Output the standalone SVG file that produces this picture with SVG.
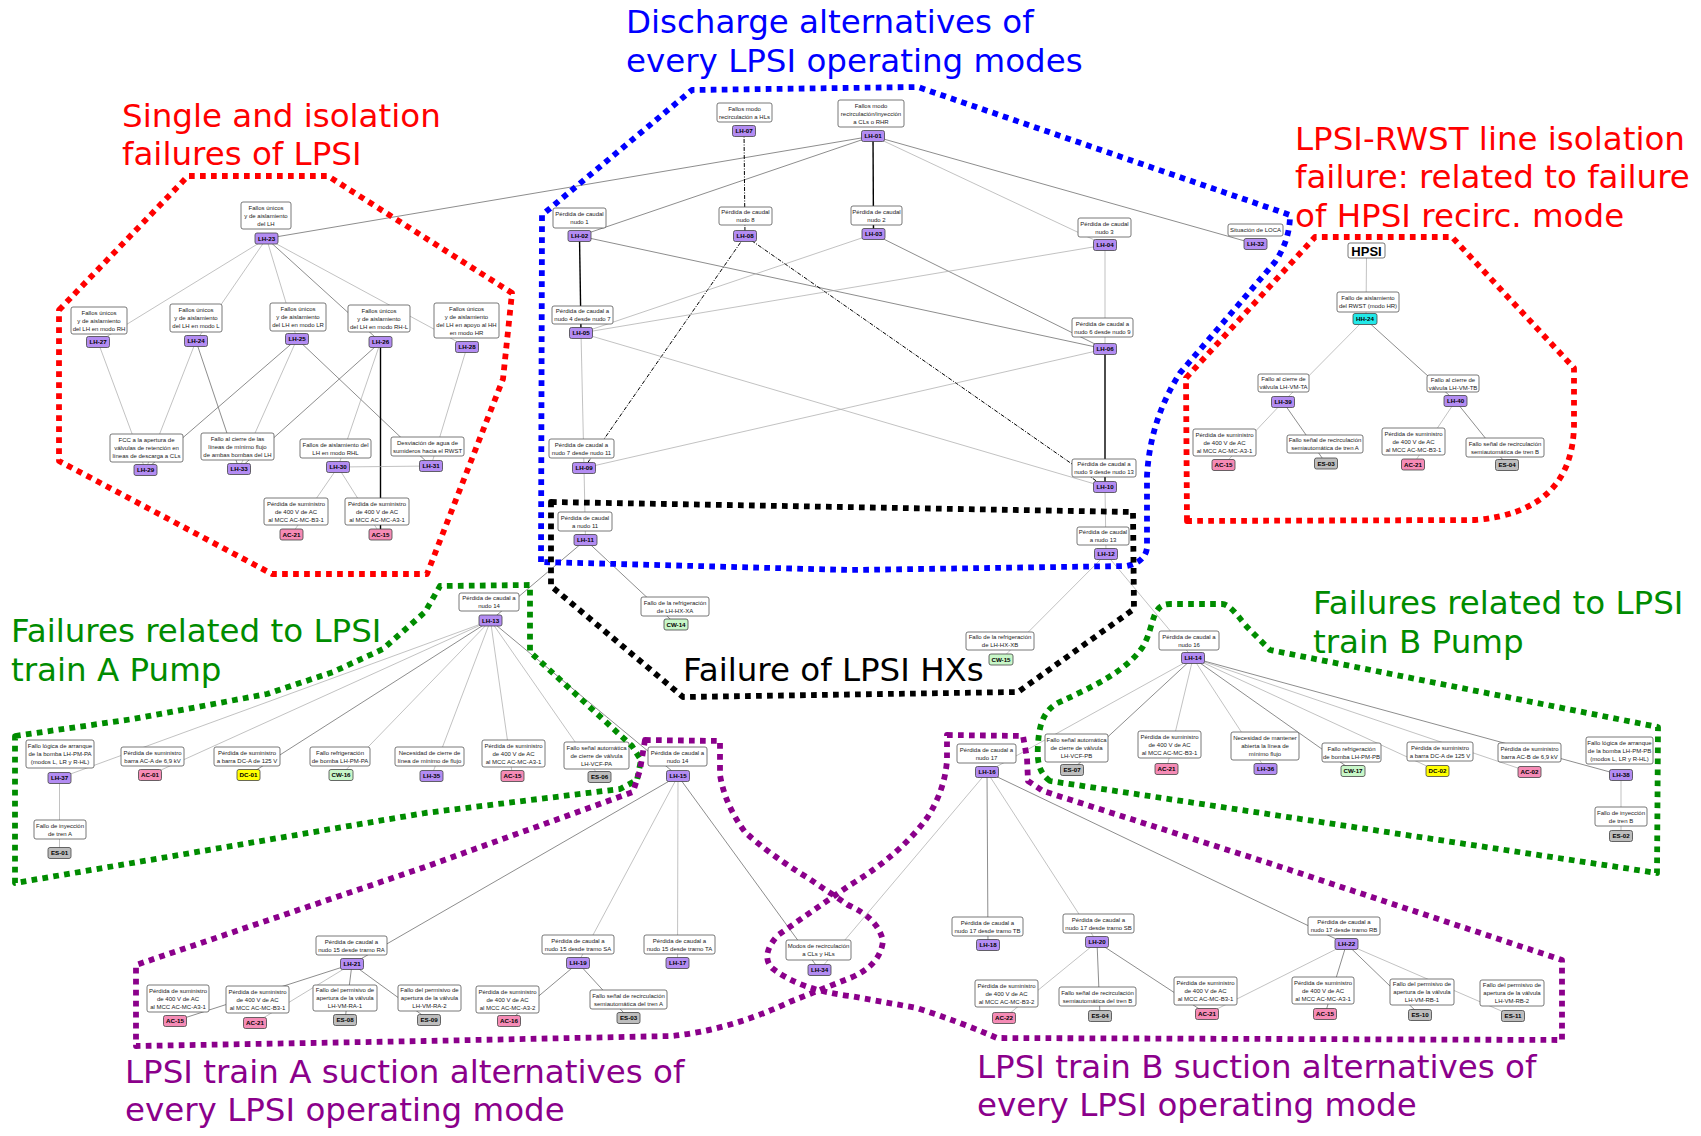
<svg xmlns="http://www.w3.org/2000/svg" width="1701" height="1136" viewBox="0 0 1701 1136">
<style>
.bx{fill:#fff;stroke:#555;stroke-width:.8}
.tx{font-family:"Liberation Sans",Arial,sans-serif;font-size:6px;fill:#222;text-anchor:middle}
.tg{stroke:#444;stroke-width:.8}
.tt{font-family:"Liberation Sans",Arial,sans-serif;font-size:6.2px;font-weight:bold;fill:#000;text-anchor:middle}
.lh{fill:#b38cf2}.ac{fill:#f58bb5}.dc{fill:#ffff00}.cw{fill:#c8f7c8}.es{fill:#bdbdbd}.hh{fill:#22e8e8}
.e{stroke:#a8a8a8;stroke-width:.7;fill:none}
.ed{stroke:#707070;stroke-width:.8;fill:none}
.eb{stroke:#000;stroke-width:1.4;fill:none}
.edd{stroke:#000;stroke-width:1;fill:none;stroke-dasharray:4 1.5 1 1.5}
.dot{fill:none;stroke-width:5.8;stroke-dasharray:5.7 5.3;stroke-linejoin:round}
.ti{font-family:"DejaVu Sans",Verdana,sans-serif;font-size:32.5px}
</style>
<rect width="1701" height="1136" fill="#fff"/>
<g id="connectors">
<line class="ed" x1="873" y1="136" x2="266.5" y2="238.5"/>
<line class="ed" x1="873" y1="136" x2="579.5" y2="236"/>
<line class="eb" x1="873" y1="136" x2="873.5" y2="234"/>
<line class="e" x1="873" y1="136" x2="1105" y2="245"/>
<line class="ed" x1="873" y1="136" x2="1255.5" y2="244"/>
<line class="edd" x1="744" y1="131" x2="745" y2="236"/>
<line class="eb" x1="579.5" y1="236" x2="581" y2="333"/>
<line class="ed" x1="579.5" y1="236" x2="1105" y2="349"/>
<line class="edd" x1="745" y1="236" x2="584" y2="468"/>
<line class="edd" x1="745" y1="236" x2="1105" y2="487"/>
<line class="e" x1="873.5" y1="234" x2="581" y2="333"/>
<line class="ed" x1="873.5" y1="234" x2="1105" y2="349"/>
<line class="e" x1="1105" y1="245" x2="1105" y2="349"/>
<line class="e" x1="581" y1="333" x2="1105" y2="245"/>
<line class="e" x1="581" y1="333" x2="584" y2="468"/>
<line class="e" x1="581" y1="333" x2="1105" y2="487"/>
<line class="e" x1="584" y1="468" x2="1105" y2="349"/>
<line class="e" x1="584" y1="468" x2="585.5" y2="540"/>
<line class="eb" x1="1105" y1="349" x2="1105" y2="487"/>
<line class="e" x1="1105" y1="487" x2="1106" y2="554"/>
<line class="ed" x1="585.5" y1="540" x2="490.5" y2="620.5"/>
<line class="ed" x1="585.5" y1="540" x2="676" y2="624.5"/>
<line class="e" x1="1106" y1="554" x2="1001" y2="659.5"/>
<line class="e" x1="1106" y1="554" x2="1193" y2="658"/>
<line class="e" x1="266.5" y1="238.5" x2="98" y2="342"/>
<line class="e" x1="266.5" y1="238.5" x2="196" y2="341"/>
<line class="e" x1="266.5" y1="238.5" x2="297" y2="339"/>
<line class="ed" x1="266.5" y1="238.5" x2="380.5" y2="342"/>
<line class="e" x1="266.5" y1="238.5" x2="467" y2="347"/>
<line class="e" x1="98" y1="342" x2="145.5" y2="470"/>
<line class="e" x1="196" y1="341" x2="145.5" y2="470"/>
<line class="ed" x1="196" y1="341" x2="239" y2="469"/>
<line class="ed" x1="297" y1="339" x2="145.5" y2="470"/>
<line class="e" x1="297" y1="339" x2="239" y2="469"/>
<line class="ed" x1="297" y1="339" x2="431" y2="466"/>
<line class="ed" x1="380.5" y1="342" x2="239" y2="469"/>
<line class="e" x1="380.5" y1="342" x2="338" y2="467"/>
<line class="eb" x1="380.5" y1="342" x2="380.5" y2="534.5"/>
<line class="e" x1="467" y1="347" x2="431" y2="466"/>
<line class="e" x1="338" y1="467" x2="431" y2="466"/>
<line class="e" x1="338" y1="467" x2="291.5" y2="534.5"/>
<line class="e" x1="338" y1="467" x2="380.5" y2="534.5"/>
<line class="e" x1="1366.5" y1="258" x2="1366" y2="314"/>
<line class="e" x1="1365" y1="319" x2="1283" y2="402"/>
<line class="ed" x1="1365" y1="319" x2="1455.5" y2="401"/>
<line class="e" x1="1283" y1="402" x2="1223.5" y2="465"/>
<line class="ed" x1="1283" y1="402" x2="1326" y2="463.5"/>
<line class="e" x1="1455.5" y1="401" x2="1413" y2="464.5"/>
<line class="ed" x1="1455.5" y1="401" x2="1507" y2="465"/>
<line class="e" x1="490.5" y1="620.5" x2="59.5" y2="778"/>
<line class="e" x1="490.5" y1="620.5" x2="150" y2="775"/>
<line class="ed" x1="490.5" y1="620.5" x2="248.5" y2="775"/>
<line class="e" x1="490.5" y1="620.5" x2="341" y2="775"/>
<line class="e" x1="490.5" y1="620.5" x2="431.5" y2="776"/>
<line class="e" x1="490.5" y1="620.5" x2="512.5" y2="776"/>
<line class="e" x1="490.5" y1="620.5" x2="599.5" y2="777"/>
<line class="ed" x1="490.5" y1="620.5" x2="678" y2="776"/>
<line class="e" x1="59.5" y1="778" x2="59.5" y2="853"/>
<line class="e" x1="1193" y1="658" x2="987" y2="772"/>
<line class="ed" x1="1193" y1="658" x2="1072" y2="770"/>
<line class="e" x1="1193" y1="658" x2="1166.5" y2="769"/>
<line class="e" x1="1193" y1="658" x2="1265.5" y2="769"/>
<line class="ed" x1="1193" y1="658" x2="1353" y2="771"/>
<line class="e" x1="1193" y1="658" x2="1437.5" y2="771"/>
<line class="e" x1="1193" y1="658" x2="1529.5" y2="772"/>
<line class="ed" x1="1193" y1="658" x2="1621" y2="775"/>
<line class="e" x1="1621" y1="775" x2="1621" y2="836"/>
<line class="ed" x1="678" y1="776" x2="352" y2="964"/>
<line class="e" x1="678" y1="776" x2="578" y2="963"/>
<line class="e" x1="678" y1="776" x2="677.5" y2="963"/>
<line class="ed" x1="678" y1="776" x2="819.5" y2="970"/>
<line class="e" x1="987" y1="772" x2="819.5" y2="970"/>
<line class="ed" x1="987" y1="772" x2="988" y2="945"/>
<line class="e" x1="987" y1="772" x2="1097" y2="942"/>
<line class="ed" x1="987" y1="772" x2="1346.5" y2="944"/>
<line class="ed" x1="352" y1="964" x2="175" y2="1021"/>
<line class="e" x1="352" y1="964" x2="255" y2="1023"/>
<line class="ed" x1="352" y1="964" x2="345" y2="1020"/>
<line class="ed" x1="352" y1="964" x2="429" y2="1020"/>
<line class="ed" x1="578" y1="963" x2="509" y2="1021"/>
<line class="ed" x1="578" y1="963" x2="628.5" y2="1018"/>
<line class="e" x1="1097" y1="942" x2="1004" y2="1018"/>
<line class="ed" x1="1097" y1="942" x2="1100" y2="1016"/>
<line class="ed" x1="1097" y1="942" x2="1207" y2="1014"/>
<line class="e" x1="1346.5" y1="944" x2="1207" y2="1014"/>
<line class="ed" x1="1346.5" y1="944" x2="1325" y2="1014"/>
<line class="ed" x1="1346.5" y1="944" x2="1420" y2="1015"/>
<line class="e" x1="1346.5" y1="944" x2="1513" y2="1016"/>
</g>
<g id="nodes">
<g id="LH-23"><rect class="bx" x="241" y="202" width="50" height="27" rx="2"/><text class="tx" y="209.7"><tspan x="266">Fallos únicos</tspan><tspan x="266" dy="8">y de aislamiento</tspan><tspan x="266" dy="8">del LH</tspan></text><rect class="tg lh" x="255" y="233" width="23" height="11" rx="2"/><text class="tt" x="266.5" y="240.7">LH-23</text></g>
<g id="LH-27"><rect class="bx" x="71" y="307" width="56" height="27" rx="2"/><text class="tx" y="314.7"><tspan x="99">Fallos únicos</tspan><tspan x="99" dy="8">y de aislamiento</tspan><tspan x="99" dy="8">del LH en modo RH</tspan></text><rect class="tg lh" x="86.5" y="336.5" width="23" height="11" rx="2"/><text class="tt" x="98" y="344.2">LH-27</text></g>
<g id="LH-24"><rect class="bx" x="170" y="304" width="52" height="28" rx="2"/><text class="tx" y="312.2"><tspan x="196">Fallos únicos</tspan><tspan x="196" dy="8">y de aislamiento</tspan><tspan x="196" dy="8">del LH en modo L</tspan></text><rect class="tg lh" x="184.5" y="335.5" width="23" height="11" rx="2"/><text class="tt" x="196" y="343.2">LH-24</text></g>
<g id="LH-25"><rect class="bx" x="270" y="303" width="56" height="28" rx="2"/><text class="tx" y="311.2"><tspan x="298">Fallos únicos</tspan><tspan x="298" dy="8">y de aislamiento</tspan><tspan x="298" dy="8">del LH en modo LR</tspan></text><rect class="tg lh" x="285.5" y="333.5" width="23" height="11" rx="2"/><text class="tt" x="297" y="341.2">LH-25</text></g>
<g id="LH-26"><rect class="bx" x="348" y="305" width="62" height="27" rx="2"/><text class="tx" y="312.7"><tspan x="379">Fallos únicos</tspan><tspan x="379" dy="8">y de aislamiento</tspan><tspan x="379" dy="8">del LH en modo RH-L</tspan></text><rect class="tg lh" x="369" y="336.5" width="23" height="11" rx="2"/><text class="tt" x="380.5" y="344.2">LH-26</text></g>
<g id="LH-28"><rect class="bx" x="434" y="303" width="65" height="35" rx="2"/><text class="tx" y="310.7"><tspan x="466.5">Fallos únicos</tspan><tspan x="466.5" dy="8">y de aislamiento</tspan><tspan x="466.5" dy="8">del LH en apoyo al HH</tspan><tspan x="466.5" dy="8">en modo HR</tspan></text><rect class="tg lh" x="455.5" y="341.5" width="23" height="11" rx="2"/><text class="tt" x="467" y="349.2">LH-28</text></g>
<g id="LH-29"><rect class="bx" x="110" y="434" width="73" height="28" rx="2"/><text class="tx" y="442.2"><tspan x="146.5">FCC a la apertura de</tspan><tspan x="146.5" dy="8">válvulas de retención en</tspan><tspan x="146.5" dy="8">líneas de descarga a CLs</tspan></text><rect class="tg lh" x="134" y="464.5" width="23" height="11" rx="2"/><text class="tt" x="145.5" y="472.2">LH-29</text></g>
<g id="LH-33"><rect class="bx" x="201" y="433" width="73" height="27" rx="2"/><text class="tx" y="440.7"><tspan x="237.5">Fallo al cierre de las</tspan><tspan x="237.5" dy="8">líneas de mínimo flujo</tspan><tspan x="237.5" dy="8">de ambas bombas del LH</tspan></text><rect class="tg lh" x="227.5" y="463.5" width="23" height="11" rx="2"/><text class="tt" x="239" y="471.2">LH-33</text></g>
<g id="LH-30"><rect class="bx" x="300" y="439" width="71" height="19" rx="2"/><text class="tx" y="446.7"><tspan x="335.5">Fallos de aislamiento del</tspan><tspan x="335.5" dy="8">LH en modo RHL</tspan></text><rect class="tg lh" x="326.5" y="461.5" width="23" height="11" rx="2"/><text class="tt" x="338" y="469.2">LH-30</text></g>
<g id="LH-31"><rect class="bx" x="391" y="437" width="73" height="19" rx="2"/><text class="tx" y="444.7"><tspan x="427.5">Desviación de agua de</tspan><tspan x="427.5" dy="8">sumideros hacia el RWST</tspan></text><rect class="tg lh" x="419.5" y="460.5" width="23" height="11" rx="2"/><text class="tt" x="431" y="468.2">LH-31</text></g>
<g id="AC-21-a"><rect class="bx" x="264" y="498" width="64" height="27" rx="2"/><text class="tx" y="505.7"><tspan x="296">Pérdida de suministro</tspan><tspan x="296" dy="8">de 400 V de AC</tspan><tspan x="296" dy="8">al MCC AC-MC-B3-1</tspan></text><rect class="tg ac" x="280" y="529" width="23" height="11" rx="2"/><text class="tt" x="291.5" y="536.7">AC-21</text></g>
<g id="AC-15-a"><rect class="bx" x="345" y="498" width="64" height="27" rx="2"/><text class="tx" y="505.7"><tspan x="377">Pérdida de suministro</tspan><tspan x="377" dy="8">de 400 V de AC</tspan><tspan x="377" dy="8">al MCC AC-MC-A3-1</tspan></text><rect class="tg ac" x="369" y="529" width="23" height="11" rx="2"/><text class="tt" x="380.5" y="536.7">AC-15</text></g>
<g id="LH-07"><rect class="bx" x="717" y="103" width="55" height="19" rx="2"/><text class="tx" y="110.7"><tspan x="744.5">Fallos modo</tspan><tspan x="744.5" dy="8">recirculación a HLs</tspan></text><rect class="tg lh" x="732.5" y="125.5" width="23" height="11" rx="2"/><text class="tt" x="744" y="133.2">LH-07</text></g>
<g id="LH-01"><rect class="bx" x="838" y="100" width="66" height="27" rx="2"/><text class="tx" y="107.7"><tspan x="871">Fallos modo</tspan><tspan x="871" dy="8">recirculación/inyección</tspan><tspan x="871" dy="8">a CLs o RHR</tspan></text><rect class="tg lh" x="861.5" y="130.5" width="23" height="11" rx="2"/><text class="tt" x="873" y="138.2">LH-01</text></g>
<g id="LH-02"><rect class="bx" x="553" y="208" width="53" height="20" rx="2"/><text class="tx" y="216.2"><tspan x="579.5">Pérdida de caudal</tspan><tspan x="579.5" dy="8">nudo 1</tspan></text><rect class="tg lh" x="568" y="230.5" width="23" height="11" rx="2"/><text class="tt" x="579.5" y="238.2">LH-02</text></g>
<g id="LH-08"><rect class="bx" x="719" y="207" width="53" height="18" rx="2"/><text class="tx" y="214.2"><tspan x="745.5">Pérdida de caudal</tspan><tspan x="745.5" dy="8">nudo 8</tspan></text><rect class="tg lh" x="733.5" y="230.5" width="23" height="11" rx="2"/><text class="tt" x="745" y="238.2">LH-08</text></g>
<g id="LH-03"><rect class="bx" x="851" y="206" width="51" height="19" rx="2"/><text class="tx" y="213.7"><tspan x="876.5">Pérdida de caudal</tspan><tspan x="876.5" dy="8">nudo 2</tspan></text><rect class="tg lh" x="862" y="228.5" width="23" height="11" rx="2"/><text class="tt" x="873.5" y="236.2">LH-03</text></g>
<g id="LH-04"><rect class="bx" x="1078" y="218" width="53" height="19" rx="2"/><text class="tx" y="225.7"><tspan x="1104.5">Pérdida de caudal</tspan><tspan x="1104.5" dy="8">nudo 3</tspan></text><rect class="tg lh" x="1093.5" y="239.5" width="23" height="11" rx="2"/><text class="tt" x="1105" y="247.2">LH-04</text></g>
<g id="LH-32"><rect class="bx" x="1228" y="224" width="55" height="12" rx="2"/><text class="tx" x="1255.5" y="232.2">Situación de LOCA</text><rect class="tg lh" x="1244" y="238.5" width="23" height="11" rx="2"/><text class="tt" x="1255.5" y="246.2">LH-32</text></g>
<g id="LH-05"><rect class="bx" x="552" y="306" width="61" height="18" rx="2"/><text class="tx" y="313.2"><tspan x="582.5">Pérdida de caudal a</tspan><tspan x="582.5" dy="8">nudo 4 desde nudo 7</tspan></text><rect class="tg lh" x="569.5" y="327.5" width="23" height="11" rx="2"/><text class="tt" x="581" y="335.2">LH-05</text></g>
<g id="LH-06"><rect class="bx" x="1072" y="318" width="61" height="19" rx="2"/><text class="tx" y="325.7"><tspan x="1102.5">Pérdida de caudal a</tspan><tspan x="1102.5" dy="8">nudo 6 desde nudo 9</tspan></text><rect class="tg lh" x="1093.5" y="343.5" width="23" height="11" rx="2"/><text class="tt" x="1105" y="351.2">LH-06</text></g>
<g id="LH-09"><rect class="bx" x="549" y="439" width="65" height="19" rx="2"/><text class="tx" y="446.7"><tspan x="581.5">Pérdida de caudal a</tspan><tspan x="581.5" dy="8">nudo 7 desde nudo 11</tspan></text><rect class="tg lh" x="572.5" y="462.5" width="23" height="11" rx="2"/><text class="tt" x="584" y="470.2">LH-09</text></g>
<g id="LH-10"><rect class="bx" x="1072" y="459" width="64" height="18" rx="2"/><text class="tx" y="466.2"><tspan x="1104">Pérdida de caudal a</tspan><tspan x="1104" dy="8">nudo 9 desde nudo 13</tspan></text><rect class="tg lh" x="1093.5" y="481.5" width="23" height="11" rx="2"/><text class="tt" x="1105" y="489.2">LH-10</text></g>
<g id="LH-11"><rect class="bx" x="558" y="512" width="54" height="19" rx="2"/><text class="tx" y="519.7"><tspan x="585">Pérdida de caudal</tspan><tspan x="585" dy="8">a nudo 11</tspan></text><rect class="tg lh" x="574" y="534.5" width="23" height="11" rx="2"/><text class="tt" x="585.5" y="542.2">LH-11</text></g>
<g id="LH-12"><rect class="bx" x="1077" y="527" width="52" height="18" rx="2"/><text class="tx" y="534.2"><tspan x="1103">Pérdida de caudal</tspan><tspan x="1103" dy="8">a nudo 13</tspan></text><rect class="tg lh" x="1094.5" y="548.5" width="23" height="11" rx="2"/><text class="tt" x="1106" y="556.2">LH-12</text></g>
<g id="LH-13"><rect class="bx" x="459" y="593" width="60" height="18" rx="2"/><text class="tx" y="600.2"><tspan x="489">Pérdida de caudal a</tspan><tspan x="489" dy="8">nudo 14</tspan></text><rect class="tg lh" x="479" y="615" width="23" height="11" rx="2"/><text class="tt" x="490.5" y="622.7">LH-13</text></g>
<g id="CW-14"><rect class="bx" x="641" y="597" width="68" height="19" rx="2"/><text class="tx" y="604.7"><tspan x="675">Fallo de la refrigeración</tspan><tspan x="675" dy="8">de LH-HX-XA</tspan></text><rect class="tg cw" x="664" y="619" width="24" height="11" rx="2"/><text class="tt" x="676" y="626.7">CW-14</text></g>
<g id="CW-15"><rect class="bx" x="966" y="632" width="68" height="18" rx="2"/><text class="tx" y="639.2"><tspan x="1000">Fallo de la refrigeración</tspan><tspan x="1000" dy="8">de LH-HX-XB</tspan></text><rect class="tg cw" x="989" y="654" width="24" height="11" rx="2"/><text class="tt" x="1001" y="661.7">CW-15</text></g>
<g id="LH-14"><rect class="bx" x="1159" y="631" width="60" height="19" rx="2"/><text class="tx" y="638.7"><tspan x="1189">Pérdida de caudal a</tspan><tspan x="1189" dy="8">nudo 16</tspan></text><rect class="tg lh" x="1181.5" y="652.5" width="23" height="11" rx="2"/><text class="tt" x="1193" y="660.2">LH-14</text></g>
<g id="HPSI"><rect class="bx" x="1348" y="243" width="37" height="15" rx="2"/><text x="1366.5" y="255.5" style="font-family:'Liberation Sans',Arial,sans-serif;font-size:13px;font-weight:bold;text-anchor:middle">HPSI</text></g>
<g id="HH-24"><rect class="bx" x="1337" y="292" width="62" height="20" rx="2"/><text class="tx" y="300.2"><tspan x="1368">Fallo de aislamiento</tspan><tspan x="1368" dy="8">del RWST (modo HR)</tspan></text><rect class="tg hh" x="1353" y="313.5" width="24" height="11" rx="2"/><text class="tt" x="1365" y="321.2">HH-24</text></g>
<g id="LH-39"><rect class="bx" x="1258" y="374" width="51" height="18" rx="2"/><text class="tx" y="381.2"><tspan x="1283.5">Fallo al cierre de</tspan><tspan x="1283.5" dy="8">válvula LH-VM-TA</tspan></text><rect class="tg lh" x="1271.5" y="396.5" width="23" height="11" rx="2"/><text class="tt" x="1283" y="404.2">LH-39</text></g>
<g id="LH-40"><rect class="bx" x="1427" y="375" width="52" height="17" rx="2"/><text class="tx" y="381.7"><tspan x="1453">Fallo al cierre de</tspan><tspan x="1453" dy="8">válvula LH-VM-TB</tspan></text><rect class="tg lh" x="1444" y="395.5" width="23" height="11" rx="2"/><text class="tt" x="1455.5" y="403.2">LH-40</text></g>
<g id="AC-15-h"><rect class="bx" x="1193" y="429" width="63" height="27" rx="2"/><text class="tx" y="436.7"><tspan x="1224.5">Pérdida de suministro</tspan><tspan x="1224.5" dy="8">de 400 V de AC</tspan><tspan x="1224.5" dy="8">al MCC AC-MC-A3-1</tspan></text><rect class="tg ac" x="1212" y="459.5" width="23" height="11" rx="2"/><text class="tt" x="1223.5" y="467.2">AC-15</text></g>
<g id="ES-03-h"><rect class="bx" x="1287" y="435" width="76" height="18" rx="2"/><text class="tx" y="442.2"><tspan x="1325">Fallo señal de recirculación</tspan><tspan x="1325" dy="8">semiautomática de tren A</tspan></text><rect class="tg es" x="1314.5" y="458" width="23" height="11" rx="2"/><text class="tt" x="1326" y="465.7">ES-03</text></g>
<g id="AC-21-h"><rect class="bx" x="1382" y="428" width="63" height="27" rx="2"/><text class="tx" y="435.7"><tspan x="1413.5">Pérdida de suministro</tspan><tspan x="1413.5" dy="8">de 400 V de AC</tspan><tspan x="1413.5" dy="8">al MCC AC-MC-B3-1</tspan></text><rect class="tg ac" x="1401.5" y="459" width="23" height="11" rx="2"/><text class="tt" x="1413" y="466.7">AC-21</text></g>
<g id="ES-04-h"><rect class="bx" x="1466" y="438" width="78" height="19" rx="2"/><text class="tx" y="445.7"><tspan x="1505">Fallo señal de recirculación</tspan><tspan x="1505" dy="8">semiautomática de tren B</tspan></text><rect class="tg es" x="1495.5" y="459.5" width="23" height="11" rx="2"/><text class="tt" x="1507" y="467.2">ES-04</text></g>
<g id="LH-37"><rect class="bx" x="26" y="740" width="68" height="28" rx="2"/><text class="tx" y="748.2"><tspan x="60">Fallo lógica de arranque</tspan><tspan x="60" dy="8">de la bomba LH-PM-PA</tspan><tspan x="60" dy="8">(modos L, LR y R-HL)</tspan></text><rect class="tg lh" x="48" y="772.5" width="23" height="11" rx="2"/><text class="tt" x="59.5" y="780.2">LH-37</text></g>
<g id="ES-01"><rect class="bx" x="34" y="820" width="52" height="19" rx="2"/><text class="tx" y="827.7"><tspan x="60">Fallo de inyección</tspan><tspan x="60" dy="8">de tren A</tspan></text><rect class="tg es" x="48" y="847.5" width="23" height="11" rx="2"/><text class="tt" x="59.5" y="855.2">ES-01</text></g>
<g id="AC-01"><rect class="bx" x="121" y="747" width="63" height="19" rx="2"/><text class="tx" y="754.7"><tspan x="152.5">Pérdida de suministro</tspan><tspan x="152.5" dy="8">barra AC-A de 6,9 kV</tspan></text><rect class="tg ac" x="138.5" y="769.5" width="23" height="11" rx="2"/><text class="tt" x="150" y="777.2">AC-01</text></g>
<g id="DC-01"><rect class="bx" x="214" y="747" width="66" height="19" rx="2"/><text class="tx" y="754.7"><tspan x="247">Pérdida de suministro</tspan><tspan x="247" dy="8">a barra DC-A de 125 V</tspan></text><rect class="tg dc" x="237" y="769.5" width="23" height="11" rx="2"/><text class="tt" x="248.5" y="777.2">DC-01</text></g>
<g id="CW-16"><rect class="bx" x="310" y="747" width="60" height="19" rx="2"/><text class="tx" y="754.7"><tspan x="340">Fallo refrigeración</tspan><tspan x="340" dy="8">de bomba LH-PM-PA</tspan></text><rect class="tg cw" x="329" y="769.5" width="24" height="11" rx="2"/><text class="tt" x="341" y="777.2">CW-16</text></g>
<g id="LH-35"><rect class="bx" x="395" y="747" width="69" height="19" rx="2"/><text class="tx" y="754.7"><tspan x="429.5">Necesidad de cierre de</tspan><tspan x="429.5" dy="8">línea de mínimo de flujo</tspan></text><rect class="tg lh" x="420" y="770.5" width="23" height="11" rx="2"/><text class="tt" x="431.5" y="778.2">LH-35</text></g>
<g id="AC-15-p"><rect class="bx" x="482" y="740" width="63" height="27" rx="2"/><text class="tx" y="747.7"><tspan x="513.5">Pérdida de suministro</tspan><tspan x="513.5" dy="8">de 400 V de AC</tspan><tspan x="513.5" dy="8">al MCC AC-MC-A3-1</tspan></text><rect class="tg ac" x="501" y="770.5" width="23" height="11" rx="2"/><text class="tt" x="512.5" y="778.2">AC-15</text></g>
<g id="ES-06"><rect class="bx" x="564" y="742" width="65" height="27" rx="2"/><text class="tx" y="749.7"><tspan x="596.5">Fallo señal automática</tspan><tspan x="596.5" dy="8">de cierre de válvula</tspan><tspan x="596.5" dy="8">LH-VCF-PA</tspan></text><rect class="tg es" x="588" y="771.5" width="23" height="11" rx="2"/><text class="tt" x="599.5" y="779.2">ES-06</text></g>
<g id="LH-15"><rect class="bx" x="648" y="747" width="59" height="19" rx="2"/><text class="tx" y="754.7"><tspan x="677.5">Pérdida de caudal a</tspan><tspan x="677.5" dy="8">nudo 14</tspan></text><rect class="tg lh" x="666.5" y="770.5" width="23" height="11" rx="2"/><text class="tt" x="678" y="778.2">LH-15</text></g>
<g id="LH-16"><rect class="bx" x="957" y="744" width="59" height="19" rx="2"/><text class="tx" y="751.7"><tspan x="986.5">Pérdida de caudal a</tspan><tspan x="986.5" dy="8">nudo 17</tspan></text><rect class="tg lh" x="975.5" y="766.5" width="23" height="11" rx="2"/><text class="tt" x="987" y="774.2">LH-16</text></g>
<g id="ES-07"><rect class="bx" x="1045" y="734" width="63" height="28" rx="2"/><text class="tx" y="742.2"><tspan x="1076.5">Fallo señal automática</tspan><tspan x="1076.5" dy="8">de cierre de válvula</tspan><tspan x="1076.5" dy="8">LH-VCF-PB</tspan></text><rect class="tg es" x="1060.5" y="764.5" width="23" height="11" rx="2"/><text class="tt" x="1072" y="772.2">ES-07</text></g>
<g id="AC-21-p"><rect class="bx" x="1138" y="731" width="63" height="27" rx="2"/><text class="tx" y="738.7"><tspan x="1169.5">Pérdida de suministro</tspan><tspan x="1169.5" dy="8">de 400 V de AC</tspan><tspan x="1169.5" dy="8">al MCC AC-MC-B3-1</tspan></text><rect class="tg ac" x="1155" y="763.5" width="23" height="11" rx="2"/><text class="tt" x="1166.5" y="771.2">AC-21</text></g>
<g id="LH-36"><rect class="bx" x="1231" y="732" width="68" height="28" rx="2"/><text class="tx" y="740.2"><tspan x="1265">Necesidad de mantener</tspan><tspan x="1265" dy="8">abierta la línea de</tspan><tspan x="1265" dy="8">mínimo flujo</tspan></text><rect class="tg lh" x="1254" y="763.5" width="23" height="11" rx="2"/><text class="tt" x="1265.5" y="771.2">LH-36</text></g>
<g id="CW-17"><rect class="bx" x="1322" y="743" width="59" height="19" rx="2"/><text class="tx" y="750.7"><tspan x="1351.5">Fallo refrigeración</tspan><tspan x="1351.5" dy="8">de bomba LH-PM-PB</tspan></text><rect class="tg cw" x="1341" y="765.5" width="24" height="11" rx="2"/><text class="tt" x="1353" y="773.2">CW-17</text></g>
<g id="DC-02"><rect class="bx" x="1407" y="742" width="66" height="19" rx="2"/><text class="tx" y="749.7"><tspan x="1440">Pérdida de suministro</tspan><tspan x="1440" dy="8">a barra DC-A de 125 V</tspan></text><rect class="tg dc" x="1426" y="765.5" width="23" height="11" rx="2"/><text class="tt" x="1437.5" y="773.2">DC-02</text></g>
<g id="AC-02"><rect class="bx" x="1498" y="743" width="63" height="19" rx="2"/><text class="tx" y="750.7"><tspan x="1529.5">Pérdida de suministro</tspan><tspan x="1529.5" dy="8">barra AC-B de 6,9 kV</tspan></text><rect class="tg ac" x="1518" y="766.5" width="23" height="11" rx="2"/><text class="tt" x="1529.5" y="774.2">AC-02</text></g>
<g id="LH-38"><rect class="bx" x="1586" y="737" width="67" height="27" rx="2"/><text class="tx" y="744.7"><tspan x="1619.5">Fallo lógica de arranque</tspan><tspan x="1619.5" dy="8">de la bomba LH-PM-PB</tspan><tspan x="1619.5" dy="8">(modos L, LR y R-HL)</tspan></text><rect class="tg lh" x="1609.5" y="769.5" width="23" height="11" rx="2"/><text class="tt" x="1621" y="777.2">LH-38</text></g>
<g id="ES-02"><rect class="bx" x="1595" y="807" width="52" height="19" rx="2"/><text class="tx" y="814.7"><tspan x="1621">Fallo de inyección</tspan><tspan x="1621" dy="8">de tren B</tspan></text><rect class="tg es" x="1609.5" y="830.5" width="23" height="11" rx="2"/><text class="tt" x="1621" y="838.2">ES-02</text></g>
<g id="LH-21"><rect class="bx" x="316" y="936" width="71" height="19" rx="2"/><text class="tx" y="943.7"><tspan x="351.5">Pérdida de caudal a</tspan><tspan x="351.5" dy="8">nudo 15 desde tramo RA</tspan></text><rect class="tg lh" x="340.5" y="958.5" width="23" height="11" rx="2"/><text class="tt" x="352" y="966.2">LH-21</text></g>
<g id="LH-19"><rect class="bx" x="542" y="935" width="72" height="19" rx="2"/><text class="tx" y="942.7"><tspan x="578">Pérdida de caudal a</tspan><tspan x="578" dy="8">nudo 15 desde tramo SA</tspan></text><rect class="tg lh" x="566.5" y="957.5" width="23" height="11" rx="2"/><text class="tt" x="578" y="965.2">LH-19</text></g>
<g id="LH-17"><rect class="bx" x="644" y="935" width="71" height="19" rx="2"/><text class="tx" y="942.7"><tspan x="679.5">Pérdida de caudal a</tspan><tspan x="679.5" dy="8">nudo 15 desde tramo TA</tspan></text><rect class="tg lh" x="666" y="957.5" width="23" height="11" rx="2"/><text class="tt" x="677.5" y="965.2">LH-17</text></g>
<g id="LH-34"><rect class="bx" x="786" y="940" width="65" height="20" rx="2"/><text class="tx" y="948.2"><tspan x="818.5">Modos de recirculación</tspan><tspan x="818.5" dy="8">a CLs y HLs</tspan></text><rect class="tg lh" x="808" y="964.5" width="23" height="11" rx="2"/><text class="tt" x="819.5" y="972.2">LH-34</text></g>
<g id="LH-18"><rect class="bx" x="952" y="917" width="71" height="19" rx="2"/><text class="tx" y="924.7"><tspan x="987.5">Pérdida de caudal a</tspan><tspan x="987.5" dy="8">nudo 17 desde tramo TB</tspan></text><rect class="tg lh" x="976.5" y="939.5" width="23" height="11" rx="2"/><text class="tt" x="988" y="947.2">LH-18</text></g>
<g id="LH-20"><rect class="bx" x="1063" y="914" width="71" height="19" rx="2"/><text class="tx" y="921.7"><tspan x="1098.5">Pérdida de caudal a</tspan><tspan x="1098.5" dy="8">nudo 17 desde tramo SB</tspan></text><rect class="tg lh" x="1085.5" y="936.5" width="23" height="11" rx="2"/><text class="tt" x="1097" y="944.2">LH-20</text></g>
<g id="LH-22"><rect class="bx" x="1308" y="917" width="72" height="18" rx="2"/><text class="tx" y="924.2"><tspan x="1344">Pérdida de caudal a</tspan><tspan x="1344" dy="8">nudo 17 desde tramo RB</tspan></text><rect class="tg lh" x="1335" y="938.5" width="23" height="11" rx="2"/><text class="tt" x="1346.5" y="946.2">LH-22</text></g>
<g id="AC-15-s1"><rect class="bx" x="147" y="985" width="62" height="27" rx="2"/><text class="tx" y="992.7"><tspan x="178">Pérdida de suministro</tspan><tspan x="178" dy="8">de 400 V de AC</tspan><tspan x="178" dy="8">al MCC AC-MC-A3-1</tspan></text><rect class="tg ac" x="163.5" y="1015.5" width="23" height="11" rx="2"/><text class="tt" x="175" y="1023.2">AC-15</text></g>
<g id="AC-21-s1"><rect class="bx" x="226" y="986" width="63" height="27" rx="2"/><text class="tx" y="993.7"><tspan x="257.5">Pérdida de suministro</tspan><tspan x="257.5" dy="8">de 400 V de AC</tspan><tspan x="257.5" dy="8">al MCC AC-MC-B3-1</tspan></text><rect class="tg ac" x="243.5" y="1017.5" width="23" height="11" rx="2"/><text class="tt" x="255" y="1025.2">AC-21</text></g>
<g id="ES-08"><rect class="bx" x="313" y="985" width="64" height="26" rx="2"/><text class="tx" y="992.2"><tspan x="345">Fallo del permisivo de</tspan><tspan x="345" dy="8">apertura de la válvula</tspan><tspan x="345" dy="8">LH-VM-RA-1</tspan></text><rect class="tg es" x="333.5" y="1014.5" width="23" height="11" rx="2"/><text class="tt" x="345" y="1022.2">ES-08</text></g>
<g id="ES-09"><rect class="bx" x="398" y="985" width="63" height="26" rx="2"/><text class="tx" y="992.2"><tspan x="429.5">Fallo del permisivo de</tspan><tspan x="429.5" dy="8">apertura de la válvula</tspan><tspan x="429.5" dy="8">LH-VM-RA-2</tspan></text><rect class="tg es" x="417.5" y="1014.5" width="23" height="11" rx="2"/><text class="tt" x="429" y="1022.2">ES-09</text></g>
<g id="AC-16"><rect class="bx" x="476" y="986" width="63" height="27" rx="2"/><text class="tx" y="993.7"><tspan x="507.5">Pérdida de suministro</tspan><tspan x="507.5" dy="8">de 400 V de AC</tspan><tspan x="507.5" dy="8">al MCC AC-MC-A3-2</tspan></text><rect class="tg ac" x="497.5" y="1015.5" width="23" height="11" rx="2"/><text class="tt" x="509" y="1023.2">AC-16</text></g>
<g id="ES-03-s"><rect class="bx" x="590" y="990" width="77" height="19" rx="2"/><text class="tx" y="997.7"><tspan x="628.5">Fallo señal de recirculación</tspan><tspan x="628.5" dy="8">semiautomática del tren A</tspan></text><rect class="tg es" x="617" y="1012.5" width="23" height="11" rx="2"/><text class="tt" x="628.5" y="1020.2">ES-03</text></g>
<g id="AC-22"><rect class="bx" x="975" y="980" width="63" height="27" rx="2"/><text class="tx" y="987.7"><tspan x="1006.5">Pérdida de suministro</tspan><tspan x="1006.5" dy="8">de 400 V de AC</tspan><tspan x="1006.5" dy="8">al MCC AC-MC-B3-2</tspan></text><rect class="tg ac" x="992.5" y="1012.5" width="23" height="11" rx="2"/><text class="tt" x="1004" y="1020.2">AC-22</text></g>
<g id="ES-04-s"><rect class="bx" x="1059" y="987" width="77" height="19" rx="2"/><text class="tx" y="994.7"><tspan x="1097.5">Fallo señal de recirculación</tspan><tspan x="1097.5" dy="8">semiautomática del tren B</tspan></text><rect class="tg es" x="1088.5" y="1010.5" width="23" height="11" rx="2"/><text class="tt" x="1100" y="1018.2">ES-04</text></g>
<g id="AC-21-s2"><rect class="bx" x="1174" y="977" width="63" height="28" rx="2"/><text class="tx" y="985.2"><tspan x="1205.5">Pérdida de suministro</tspan><tspan x="1205.5" dy="8">de 400 V de AC</tspan><tspan x="1205.5" dy="8">al MCC AC-MC-B3-1</tspan></text><rect class="tg ac" x="1195.5" y="1008.5" width="23" height="11" rx="2"/><text class="tt" x="1207" y="1016.2">AC-21</text></g>
<g id="AC-15-s2"><rect class="bx" x="1292" y="977" width="62" height="27" rx="2"/><text class="tx" y="984.7"><tspan x="1323">Pérdida de suministro</tspan><tspan x="1323" dy="8">de 400 V de AC</tspan><tspan x="1323" dy="8">al MCC AC-MC-A3-1</tspan></text><rect class="tg ac" x="1313.5" y="1008.5" width="23" height="11" rx="2"/><text class="tt" x="1325" y="1016.2">AC-15</text></g>
<g id="ES-10"><rect class="bx" x="1390" y="979" width="64" height="26" rx="2"/><text class="tx" y="986.2"><tspan x="1422">Fallo del permisivo de</tspan><tspan x="1422" dy="8">apertura de la válvula</tspan><tspan x="1422" dy="8">LH-VM-RB-1</tspan></text><rect class="tg es" x="1408.5" y="1009.5" width="23" height="11" rx="2"/><text class="tt" x="1420" y="1017.2">ES-10</text></g>
<g id="ES-11"><rect class="bx" x="1480" y="980" width="64" height="26" rx="2"/><text class="tx" y="987.2"><tspan x="1512">Fallo del permisivo de</tspan><tspan x="1512" dy="8">apertura de la válvula</tspan><tspan x="1512" dy="8">LH-VM-RB-2</tspan></text><rect class="tg es" x="1501.5" y="1010.5" width="23" height="11" rx="2"/><text class="tt" x="1513" y="1018.2">ES-11</text></g>
</g>
<g id="groups">
<path class="dot" stroke="#ff0000" d="M59,310 L188,176 L328,176 L512,293 L503,379 L427,574 L272,574 L59,461 Z"/>
<path class="dot" stroke="#0000ff" d="M541,562 L542,215 L692,90 L918,87 L1290,215 Q1290,240 1275,262 L1180,373 Q1150,420 1147,476 L1147,548 Q1145,562 1127,566 L850,570 Z"/>
<path class="dot" stroke="#000000" d="M551,502 L1133,512 L1134,609 L1018,692 L683,697 L551,586 Z"/>
<path class="dot" stroke="#ff0000" d="M1187,521 L1186,378 L1315,237 L1452,237 L1574,368 L1574,426 Q1572,512 1475,520 Z"/>
<path class="dot" stroke="#008c00" d="M15,736 L133,719 L267,694 L333,672 L383,649 L425,612 L440,586 L530,585 L530,652 L632,746 L641,760 L637,780 L620,789 L425,813 L15,883 Z"/>
<path class="dot" stroke="#008c00" d="M1050,781 C1038,772 1037,760 1038,745 C1039,722 1045,708 1062,701 C1090,688 1125,672 1142,648 C1155,628 1150,604 1170,604 L1222,604 C1232,605 1240,620 1250,630 L1270,650 L1658,727 L1657,873 Z"/>
<path class="dot" stroke="#8b008b" d="M645,740 L720,741 L720,775 Q725,805 745,832 Q770,855 808,878 L848,905 Q878,918 883,941 Q880,966 850,978 L792,1001 Q730,1030 672,1036 L425,1041 L136,1046 L136,965 L425,867 L633,792 L640,770 Z"/>
<path class="dot" stroke="#8b008b" d="M947,735 L1023,736 L1027,758 L1028,781 L1043,791 L1275,865 L1562,960 L1562,1040 L997,1038 Q960,1022 917,1008 L850,996 Q800,990 772,968 Q760,955 778,935 L850,885 Q900,855 927,818 Q945,790 947,760 Z"/>
</g>
<g id="titles">
<text class="ti" fill="#ff0000"><tspan x="122" y="127">Single and isolation</tspan><tspan x="122" y="165">failures of LPSI</tspan></text>
<text class="ti" fill="#0000ff"><tspan x="626" y="33">Discharge alternatives of</tspan><tspan x="626" y="72">every LPSI operating modes</tspan></text>
<text class="ti" fill="#ff0000"><tspan x="1295" y="150">LPSI-RWST line isolation</tspan><tspan x="1295" y="188">failure: related to failure</tspan><tspan x="1295" y="227">of HPSI recirc. mode</tspan></text>
<text class="ti" fill="#008c00"><tspan x="11" y="642">Failures related to LPSI</tspan><tspan x="11" y="681">train A Pump</tspan></text>
<text class="ti" fill="#008c00"><tspan x="1313" y="614">Failures related to LPSI</tspan><tspan x="1313" y="653">train B Pump</tspan></text>
<text class="ti" fill="#000000" x="683" y="681">Failure of LPSI HXs</text>
<text class="ti" fill="#8b008b"><tspan x="125" y="1083">LPSI train A suction alternatives of</tspan><tspan x="125" y="1121">every LPSI operating mode</tspan></text>
<text class="ti" fill="#8b008b"><tspan x="977" y="1078">LPSI train B suction alternatives of</tspan><tspan x="977" y="1116">every LPSI operating mode</tspan></text>
</g>
</svg>
